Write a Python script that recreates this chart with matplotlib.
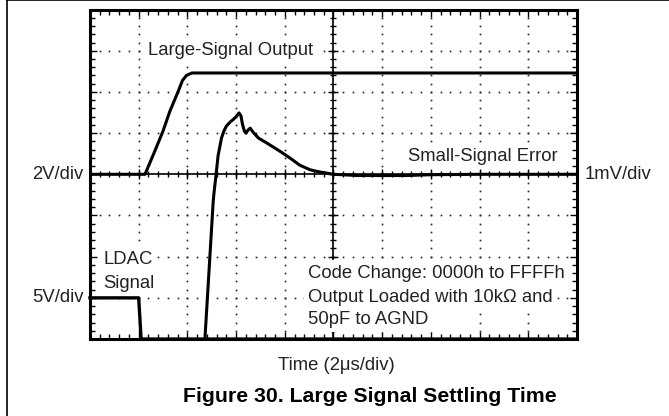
import numpy as np
import matplotlib.pyplot as plt
from matplotlib.lines import Line2D

plt.rcParams['font.family'] = ['Liberation Sans', 'DejaVu Sans']

# traces, in scope divisions (x: 0..10 div, y: -4..4 div)
large_x = [0, 1.13, 1.33, 1.50, 1.64, 1.81, 1.90, 1.98, 2.09, 10]
large_y = [0, 0, 0.56, 1.05, 1.53, 2.01, 2.28, 2.40, 2.46, 2.46]

small_x = [2.36, 2.53, 2.55, 2.59, 2.63, 2.70, 2.75, 2.80, 2.87, 2.94, 3.00, 3.06, 3.10, 3.13,
           3.17, 3.20, 3.25, 3.29, 3.35, 3.46, 3.63, 3.90, 4.10, 4.31, 4.52, 4.70, 4.86, 5.0,
           5.5, 6.0, 6.5, 7.0, 8.0, 9.0, 10]
small_y = [-4, -0.66, -0.41, 0, 0.45, 0.88, 1.05, 1.17, 1.26, 1.33, 1.40, 1.49, 1.42, 1.22,
           1.05, 1.00, 1.08, 1.12, 1.02, 0.88, 0.76, 0.56, 0.40, 0.22, 0.11, 0.06, 0.03, 0.0,
           -0.03, -0.03, -0.03, -0.01, 0.0, 0.0, 0.0]

ldac_x = [0, 1.0, 1.05, 10]
ldac_y = [-3, -3, -4, -4]

fig = plt.figure(figsize=(6.69, 4.16), dpi=100)
ax = fig.add_axes([0.1345, 0.185, 0.728, 0.792])
ax.set_xlim(0, 10)
ax.set_ylim(-4, 4)

# dotted graticule
minor_x = np.arange(0, 10.01, 0.2)
minor_y = np.arange(-4, 4.01, 0.2)
for gx in range(1, 10):
    if gx == 5:
        continue
    ax.plot(np.full(len(minor_y), gx), minor_y, ls='none', marker='s', ms=1.2, mew=0,
            color='#222222', zorder=1)
for gy in range(-3, 4):
    if gy == 0:
        continue
    ax.plot(minor_x, np.full(len(minor_x), gy), ls='none', marker='s', ms=1.2, mew=0,
            color='#222222', zorder=1)

# centre crosshair with ticks
ax.axhline(0, color='black', lw=1.2, zorder=2)
ax.axvline(5, color='black', lw=1.2, zorder=2)
ax.plot(minor_x, np.zeros(len(minor_x)), ls='none', marker='|', ms=4.5, mew=1.0, color='black', zorder=2)
ax.plot(np.full(len(minor_y), 5), minor_y, ls='none', marker='_', ms=4.5, mew=1.0, color='black', zorder=2)
ax.plot(np.arange(0, 11), np.zeros(11), ls='none', marker='|', ms=7, mew=1.0, color='black', zorder=2)
ax.plot(np.full(9, 5), np.arange(-4, 5), ls='none', marker='_', ms=7, mew=1.0, color='black', zorder=2)

# frame ticks
ax.set_xticks(np.arange(0, 11))
ax.set_yticks(np.arange(-4, 5))
ax.set_xticks(minor_x, minor=True)
ax.set_yticks(minor_y, minor=True)
ax.tick_params(which='both', direction='in', top=True, right=True,
               labelleft=False, labelbottom=False, width=1.0, color='black')
ax.tick_params(which='major', length=5)
ax.tick_params(which='minor', length=3.5)
for s in ax.spines.values():
    s.set_linewidth(2.2)

# traces
ax.plot(large_x, large_y, color='black', lw=2.2, zorder=4, solid_joinstyle='round')
ax.plot(small_x, small_y, color='black', lw=2.2, zorder=4, solid_joinstyle='round')
ax.plot(ldac_x, ldac_y, color='black', lw=2.4, zorder=4, clip_on=False)

bb = dict(facecolor='white', edgecolor='none', pad=3)
tc = '#222222'
fs = 13.3
ax.text(1.19, 3.01, 'Large-Signal Output', fontsize=fs, color=tc, ha='left', va='center', bbox=bb, zorder=3)
ax.text(9.61, 0.44, 'Small-Signal Error', fontsize=fs, color=tc, ha='right', va='center', bbox=bb, zorder=3)
ax.text(0.27, -2.06, 'LDAC', fontsize=fs, color=tc, ha='left', va='center', bbox=bb, zorder=3)
ax.text(0.27, -2.65, 'Signal', fontsize=fs, color=tc, ha='left', va='center', bbox=bb, zorder=3)
ax.text(4.48, -2.40, 'Code Change: 0000h to FFFFh', fontsize=fs, color=tc, ha='left', va='center', bbox=bb, zorder=3)
ax.text(4.48, -2.99, 'Output Loaded with 10k\u03a9 and', fontsize=fs, color=tc, ha='left', va='center', bbox=bb, zorder=3)
ax.text(4.48, -3.52, '50pF to AGND', fontsize=fs, color=tc, ha='left', va='center', bbox=bb, zorder=3)

# scale labels outside the graticule
ax.text(-0.13, 0, '2V/div', fontsize=fs, color=tc, ha='right', va='center', clip_on=False)
ax.text(-0.13, -3, '5V/div', fontsize=fs, color=tc, ha='right', va='center', clip_on=False)
ax.text(10.16, 0, '1mV/div', fontsize=fs, color=tc, ha='left', va='center', clip_on=False)

fig.text(336 / 669, 1 - 365 / 416, 'Time (2\u03bcs/div)', fontsize=fs, color=tc, ha='center', va='center')
fig.text(370 / 669, 1 - 397 / 416, 'Figure 30. Large Signal Settling Time', fontsize=15.3,
         fontweight='bold', color='black', ha='center', va='center')

# page border (left and top only)
fig.add_artist(Line2D([7 / 669, 7 / 669], [0, 1], transform=fig.transFigure, color='black', lw=1.2))
fig.add_artist(Line2D([7 / 669, 1], [0.999, 0.999], transform=fig.transFigure, color='black', lw=1.2))

plt.savefig('out.png', dpi=100)
